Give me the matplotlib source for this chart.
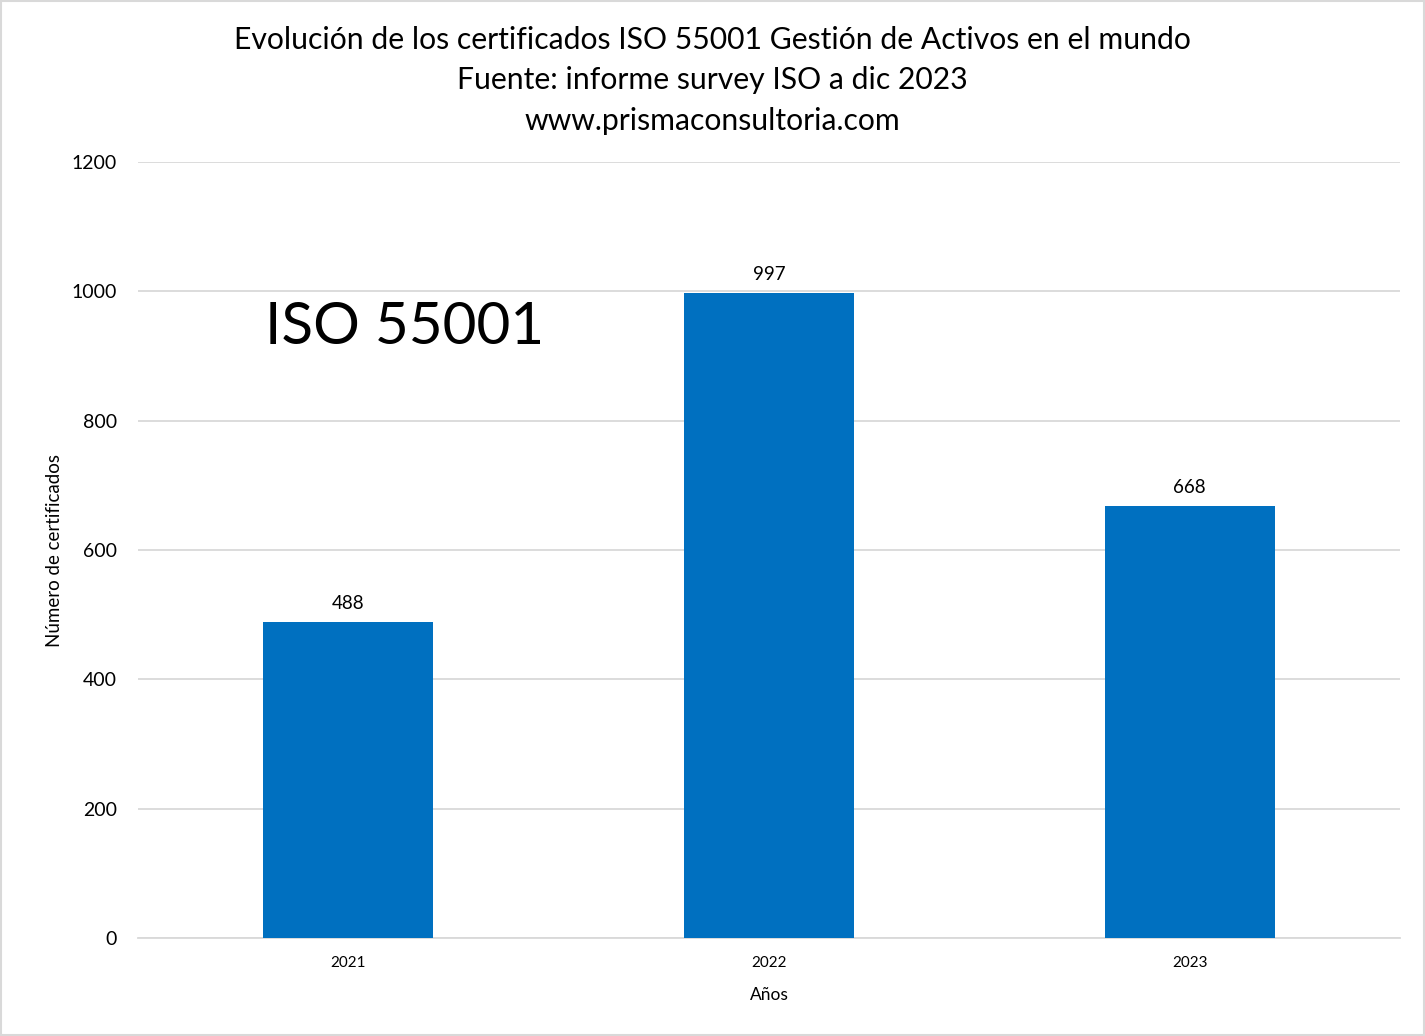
import matplotlib
matplotlib.use("Agg")
import matplotlib.pyplot as plt
from matplotlib.patches import Rectangle

years = ["2021", "2022", "2023"]
certs = [488, 997, 668]
yticks = [0, 200, 400, 600, 800, 1000, 1200]
title_lines = ["Evolución de los certificados ISO 55001 Gestión de Activos en el mundo",
               "Fuente: informe survey ISO a dic 2023",
               "www.prismaconsultoria.com"]

plt.rcParams['font.family'] = ['Lato', 'DejaVu Sans']

fig = plt.figure(figsize=(14.25, 10.36), dpi=100)
fig.patches.append(Rectangle((0.001, 0.001), 0.998, 0.998, transform=fig.transFigure,
                             fill=False, edgecolor="#d9d9d9", linewidth=1.5))
ax = fig.add_axes([0.0968, 0.0946, 0.8857, 0.749])

x = list(range(len(years)))
bars = ax.bar(x, certs, width=0.404, color="#0070c0", zorder=3)
for xi, v in zip(x, certs):
    ax.text(xi, v + 16, str(v), ha="center", va="bottom", fontsize=13.5, color="#000000")

ax.set_xlim(-0.5, 2.5)
ax.set_ylim(0, 1200)
ax.set_yticks(yticks)
ax.set_yticklabels([str(t) for t in yticks], fontsize=14)
ax.set_xticks(x)
ax.set_xticklabels(years, fontsize=11)
ax.tick_params(axis="both", length=0)
ax.tick_params(axis="y", pad=15)
ax.tick_params(axis="x", pad=13)
ax.grid(axis="y", color="#d9d9d9", linewidth=1.3, zorder=0)
for s in ["top", "right", "left"]:
    ax.spines[s].set_visible(False)
ax.spines["bottom"].set_color("#d9d9d9")
ax.spines["bottom"].set_linewidth(1.3)

ax.set_xlabel("Años", fontsize=12.5, labelpad=12)
ax.set_ylabel("Número de certificados", fontsize=13.5, labelpad=6)

for i, line in enumerate(title_lines):
    fig.text(0.5, 1 - (40 + 40.5 * i) / 1036, line, ha="center", va="center", fontsize=21.7)

fig.text(265 / 1425, 1 - 328 / 1036, "ISO 55001", ha="left", va="center", fontsize=42)

fig.savefig("out.png", dpi=100)
